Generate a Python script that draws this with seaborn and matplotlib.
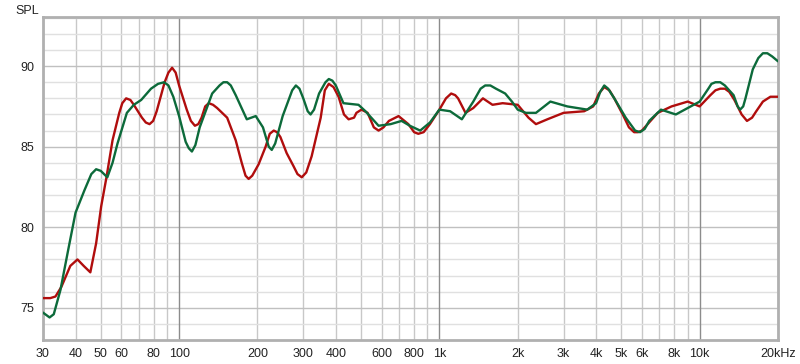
import matplotlib
matplotlib.use("Agg")
import matplotlib.pyplot as plt
import seaborn as sns
import pandas as pd
from matplotlib.ticker import FixedLocator, NullFormatter

# ---- data ----
red_freq = [30, 32, 33.5, 35.3, 38.2, 40.7, 43, 45.6, 48, 50.2, 52.6, 55.5, 58.9, 60.5, 62.6, 65, 67, 72, 74.5,
            77, 79.5, 82, 88, 91, 94, 97, 100, 107, 111, 115, 118.5, 122, 126, 130, 135, 140, 153, 165, 174,
            180, 185, 191, 202, 215, 223, 231, 238, 245, 259, 275, 285, 296, 308, 323, 350, 363, 376, 392,
            410, 430, 448, 470, 480, 502, 530, 560, 584, 610, 640, 697, 760, 800, 830, 870, 920, 1000, 1060,
            1110, 1150, 1180, 1260, 1350, 1470, 1600, 1750, 2000, 2200, 2350, 2600, 3000, 3600, 3900, 4100,
            4300, 4500, 4700, 5100, 5350, 5600, 5800, 6000, 6900, 7800, 9000, 10000, 11000, 11500, 12000,
            12500, 13000, 13600, 14500, 15200, 15900, 16500, 17500, 18700, 20000]
red_spl = [75.6, 75.6, 75.7, 76.3, 77.6, 78.0, 77.6, 77.2, 79.0, 81.3, 83.1, 85.4, 87.1, 87.7, 88.0, 87.9, 87.6,
           86.8, 86.5, 86.4, 86.6, 87.2, 89.0, 89.6, 89.9, 89.6, 88.8, 87.3, 86.6, 86.3, 86.4, 86.8, 87.5, 87.7,
           87.6, 87.4, 86.8, 85.4, 84.0, 83.2, 83.0, 83.2, 83.9, 85.0, 85.8, 86.0, 85.9, 85.6, 84.6, 83.8, 83.3,
           83.1, 83.4, 84.4, 86.8, 88.5, 88.9, 88.7, 88.1, 87.0, 86.7, 86.8, 87.1, 87.3, 87.1, 86.2, 86.0, 86.2,
           86.6, 86.9, 86.4, 85.9, 85.8, 85.9, 86.4, 87.3, 88.0, 88.3, 88.2, 88.0, 87.1, 87.4, 88.0, 87.6, 87.7,
           87.6, 86.8, 86.4, 86.7, 87.1, 87.2, 87.5, 88.3, 88.7, 88.5, 88.0, 86.9, 86.2, 85.9, 85.9, 86.0, 87.1,
           87.5, 87.8, 87.5, 88.2, 88.5, 88.6, 88.6, 88.4, 87.9, 87.0, 86.6, 86.8, 87.2, 87.8, 88.1, 88.1]

green_freq = [30, 31.8, 33, 35, 37.5, 40, 43.3, 46, 48, 50, 53, 55.5, 58, 63, 67, 71.5, 78, 83, 87.6, 91, 95,
              100, 106, 109, 112, 115.5, 120, 134, 143, 148, 153, 158, 165, 182, 197, 210, 221, 227, 234, 250,
              272, 281, 290, 300, 312, 320, 330, 345, 365, 376, 388, 400, 428, 489, 520, 584, 650, 716, 770,
              844, 920, 1000, 1100, 1220, 1350, 1440, 1500, 1570, 1650, 1790, 1900, 2000, 2150, 2350, 2670,
              3100, 3700, 4000, 4150, 4300, 4450, 4700, 5200, 5650, 5900, 6150, 6400, 7100, 8100, 9000, 10000,
              10800, 11100, 11500, 12000, 12500, 13500, 14000, 14300, 14700, 15000, 16000, 16800, 17500, 18200,
              19000, 20000]
green_spl = [74.7, 74.4, 74.6, 76.1, 78.6, 80.9, 82.3, 83.3, 83.6, 83.5, 83.1, 84.0, 85.2, 87.1, 87.6, 87.9,
             88.6, 88.9, 89.0, 88.8, 88.1, 86.9, 85.3, 84.9, 84.7, 85.1, 86.2, 88.3, 88.8, 89.0, 89.0, 88.8,
             88.2, 86.7, 86.9, 86.2, 85.0, 84.8, 85.2, 86.9, 88.5, 88.8, 88.6, 88.0, 87.2, 87.0, 87.3, 88.3,
             89.0, 89.2, 89.1, 88.8, 87.7, 87.6, 87.2, 86.3, 86.4, 86.6, 86.3, 86.0, 86.5, 87.3, 87.2, 86.7,
             87.8, 88.6, 88.8, 88.8, 88.6, 88.3, 87.8, 87.3, 87.1, 87.1, 87.8, 87.5, 87.3, 87.7, 88.4, 88.8,
             88.6, 88.0, 86.8, 86.0, 85.9, 86.1, 86.6, 87.3, 87.0, 87.4, 87.8, 88.6, 88.9, 89.0, 89.0, 88.8,
             88.2, 87.5, 87.3, 87.5, 88.0, 89.8, 90.5, 90.8, 90.8, 90.6, 90.3]

x_ticks = [30, 40, 50, 60, 80, 100, 200, 300, 400, 600, 800, 1000, 2000, 3000, 4000, 5000, 6000, 8000, 10000, 20000]
x_tick_labels = ["30", "40", "50", "60", "80", "100", "200", "300", "400", "600", "800", "1k", "2k", "3k",
                 "4k", "5k", "6k", "8k", "10k", "20kHz"]
y_ticks = [75, 80, 85, 90]
y_tick_labels = ["75", "80", "85", "90"]

df = pd.concat([
    pd.DataFrame({"freq": red_freq, "spl": red_spl, "series": "A"}),
    pd.DataFrame({"freq": green_freq, "spl": green_spl, "series": "B"}),
])

sns.set_style("white")
plt.rcParams["font.family"] = ["Liberation Sans", "DejaVu Sans"]

fig = plt.figure(figsize=(8, 3.64), dpi=100)
ax = fig.add_axes([43 / 800, 1 - 340 / 364, (778 - 43) / 800, (340 - 17) / 364])

sns.lineplot(data=df, x="freq", y="spl", hue="series", palette={"A": "#b00d0d", "B": "#0c6a3a"},
             linewidth=1.7, legend=False, ax=ax, sort=False, zorder=5)
for ln in ax.get_lines():
    ln.set_solid_joinstyle("round")
    ln.set_solid_capstyle("round")
ax.set_xscale("log")
ax.set_xlim(30, 20000)
ax.set_ylim(73.0, 93.05)

# grid
minor_x = [f * d for d in (10, 100, 1000, 10000) for f in range(1, 10)]
minor_x = [f for f in minor_x if 30 <= f <= 20000 and f not in (100, 1000, 10000)]
for f in minor_x:
    ax.axvline(f, color="#c8c8c8", lw=1, zorder=1)
for f in (100, 1000, 10000):
    ax.axvline(f, color="#8c8c8c", lw=1, zorder=2)
for v in range(74, 94):
    ax.axhline(v, color="#c0c0c0" if v % 5 == 0 else "#e0e0e0", lw=1, zorder=1)

ax.xaxis.set_major_locator(FixedLocator(x_ticks))
ax.set_xticklabels(x_tick_labels)
ax.xaxis.set_minor_formatter(NullFormatter())
ax.tick_params(axis="x", which="both", length=0, pad=6, labelsize=9, colors="#222222")
ax.set_yticks(y_ticks)
ax.set_yticklabels(y_tick_labels)
ax.tick_params(axis="y", length=0, pad=6, labelsize=9, colors="#222222")
ax.set_xlabel("")
ax.set_ylabel("")

for s in ax.spines.values():
    s.set_visible(True)
    s.set_color("#b0b0b0")
    s.set_linewidth(2.0)

fig.text(15 / 800, 1 - 11 / 364, "SPL", fontsize=9, color="#222222", va="center", ha="left")

fig.savefig("out.png", dpi=100, facecolor="white")
